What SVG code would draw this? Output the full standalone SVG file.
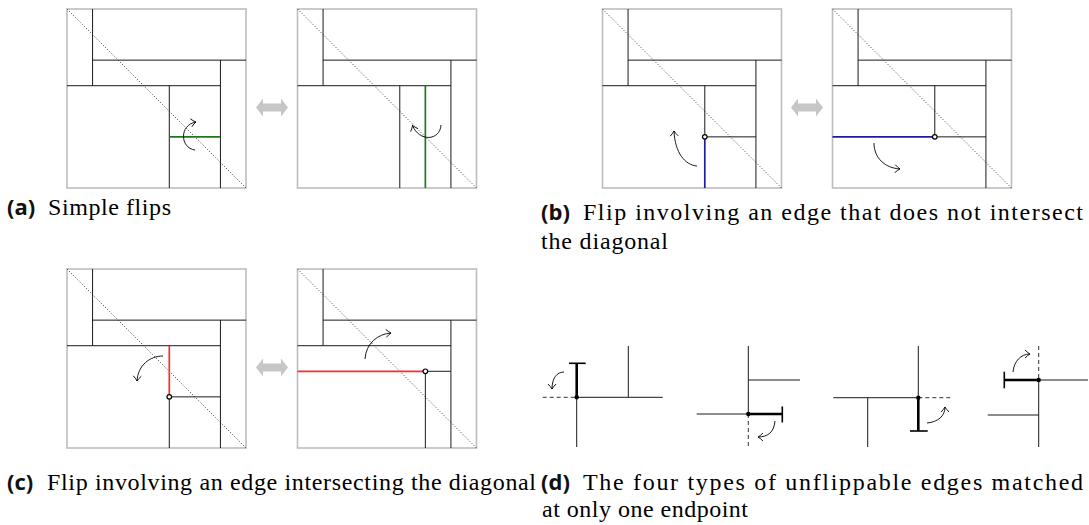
<svg xmlns="http://www.w3.org/2000/svg" xmlns:xlink="http://www.w3.org/1999/xlink" width="1089" height="525" viewBox="0 0 1089 525">
<style>
.ln{stroke:#1a1a1a;stroke-width:1;fill:none}
.box{stroke:#bdbdbd;stroke-width:1.6;fill:none}
.diag{stroke:#333;stroke-width:1;stroke-dasharray:1 2;fill:none}
.g{stroke:#1c7a1c;stroke-width:1.7;fill:none}
.b{stroke:#1c1ca0;stroke-width:1.7;fill:none}
.r{stroke:#ff2a2a;stroke-width:1.7;fill:none}
.arr{stroke:#000;stroke-width:0.9;fill:none;marker-end:url(#ah)}
.pt{fill:#fff;stroke:#000;stroke-width:1.2}
.dot{fill:#000}
.thick{stroke:#000;stroke-width:2.6;fill:none}
.bar{stroke:#000;stroke-width:1.6;fill:none}
.dash{stroke:#333;stroke-width:1;stroke-dasharray:4 3;fill:none}
.dbl{fill:#c6c6c6}
</style>
<defs>
<marker id="ah" viewBox="-6 -6 12 12" refX="0" refY="0" markerWidth="12" markerHeight="12" markerUnits="userSpaceOnUse" orient="auto" overflow="visible">
<path d="M-5,-4 Q-2,-1 0,0 Q-2,1 -5,4" fill="none" stroke="#000" stroke-width="0.9"/>
</marker>
<g id="frame">
<rect x="0" y="0" width="179" height="179" class="box"/>
<line x1="0" y1="0" x2="179" y2="179" class="diag"/>
<path class="ln" d="M25.57,0V76.71 M25.57,51.14H179 M153.43,51.14V179 M0,76.71H153.43"/>
</g>
<path id="dblarrow" class="dbl" d="M0,0 L7,-9 L7,-4 L25,-4 L25,-9 L32,0 L25,9 L25,4 L7,4 L7,9 Z"/>
</defs>

<text x="48" y="215" font-family="'Liberation Serif'" font-size="24" textLength="123">Simple flips</text>
<text x="583" y="220" font-family="'Liberation Serif'" font-size="24" textLength="500">Flip involving an edge that does not intersect</text>
<text x="541" y="249" font-family="'Liberation Serif'" font-size="24" textLength="127">the diagonal</text>
<text x="47" y="490" font-family="'Liberation Serif'" font-size="24" textLength="489">Flip involving an edge intersecting the diagonal</text>
<text x="583" y="490" font-family="'Liberation Serif'" font-size="24" textLength="500">The four types of unflippable edges matched</text>
<text x="542" y="517" font-family="'Liberation Serif'" font-size="24" textLength="206">at only one endpoint</text>
<text x="7" y="215" font-family="'Open Sans'" font-weight="700" font-size="22" fill="#111">(a)</text>
<text x="541" y="220" font-family="'Open Sans'" font-weight="700" font-size="22" fill="#111">(b)</text>
<text x="7" y="490" font-family="'Open Sans'" font-weight="700" font-size="22" fill="#111">(c)</text>
<text x="541" y="490" font-family="'Open Sans'" font-weight="700" font-size="22" fill="#111">(d)</text>

<g id="panel-a1">
<use xlink:href="#frame" x="67" y="9"/>
<path class="ln" d="M169.29,85.71V188"/>
<path class="g" d="M169.29,136.86H220.43"/>
<path class="arr" d="M195,150 C180,148 179,125 196,122"/>
</g>
<g id="panel-a2">
<use xlink:href="#frame" x="297.5" y="9"/>
<path class="ln" d="M399.79,85.71V188"/>
<path class="g" d="M425.36,85.71V188"/>
<path class="arr" d="M441,125 C440,141 419,142 412.5,125.5"/>
</g>
<g id="panel-b1">
<use xlink:href="#frame" x="602.5" y="9"/>
<path class="ln" d="M704.79,85.71V136.86 M704.79,136.86H755.93"/>
<path class="b" d="M704.79,136.86V188"/>
<circle class="pt" cx="704.79" cy="136.86" r="2.3"/>
<path class="arr" d="M697,166 C685,165 675,153 674,131"/>
</g>
<g id="panel-b2">
<use xlink:href="#frame" x="832.5" y="9"/>
<path class="ln" d="M934.79,85.71V136.86 M934.79,136.86H985.93"/>
<path class="b" d="M832.5,136.86H934.79"/>
<circle class="pt" cx="934.79" cy="136.86" r="2.3"/>
<path class="arr" d="M874,143 C874,158 885,168 900,169"/>
</g>
<g id="panel-c1">
<use xlink:href="#frame" x="67" y="269"/>
<path class="ln" d="M169.29,396.86H220.43 M169.29,396.86V448"/>
<path class="r" d="M169.29,345.71V396.86"/>
<circle class="pt" cx="169.29" cy="396.86" r="2.3"/>
<path class="arr" d="M163,356 C150,356 138,365 137,381"/>
</g>
<g id="panel-c2">
<use xlink:href="#frame" x="297.5" y="269"/>
<path class="ln" d="M425.36,371.29H450.93 M425.36,371.29V448"/>
<path class="r" d="M297.5,371.29H425.36"/>
<circle class="pt" cx="425.36" cy="371.29" r="2.3"/>
<path class="arr" d="M365,359 C366,343 378,334 391,333"/>
</g>

<g id="double-arrows">
<use xlink:href="#dblarrow" x="256" y="107.5"/>
<use xlink:href="#dblarrow" x="791" y="107.5"/>
<use xlink:href="#dblarrow" x="256" y="367.5"/>
</g>

<g id="panel-d1">
<path class="dash" d="M542.7,397.3H576.7"/>
<path class="ln" d="M576.7,397.3H662.7 M628.3,346V397.3 M576.7,397.3V447"/>
<path class="thick" d="M576.7,363.3V397.3"/>
<path class="bar" d="M569,363.3H585.7"/>
<circle class="dot" cx="576.7" cy="397.3" r="2.2"/>
<path class="arr" d="M564,372 C557,372 552,378 552,389"/>
</g>
<g id="panel-d2">
<path class="ln" d="M748.3,346V414 M748.3,380H800 M696.7,414H748.3"/>
<path class="thick" d="M748.3,414H782.3"/>
<path class="bar" d="M782.3,406.5V422.5"/>
<path class="dash" d="M748.3,414V447"/>
<circle class="dot" cx="748.3" cy="414" r="2.2"/>
<path class="arr" d="M775,421 C774,432 768,437 758,437"/>
</g>
<g id="panel-d3">
<path class="ln" d="M833.3,397.7H918.3 M867.7,397.7V447 M918.3,346V397.7"/>
<path class="thick" d="M918.3,397.7V431"/>
<path class="bar" d="M910,431H927.7"/>
<path class="dash" d="M918.3,397.7H953.3"/>
<circle class="dot" cx="918.3" cy="397.7" r="2.2"/>
<path class="arr" d="M927,423 C938,422 945,416 945,407"/>
</g>
<g id="panel-d4">
<path class="dash" d="M1038.7,346V380"/>
<path class="ln" d="M1038.7,380H1088 M1038.7,380V447 M987.7,415H1038.7"/>
<path class="thick" d="M1004.3,380H1038.7"/>
<path class="bar" d="M1004.3,371.7V388.3"/>
<circle class="dot" cx="1038.7" cy="380" r="2.2"/>
<path class="arr" d="M1013,372 C1014,361 1021,354 1030,354"/>
</g>
</svg>
